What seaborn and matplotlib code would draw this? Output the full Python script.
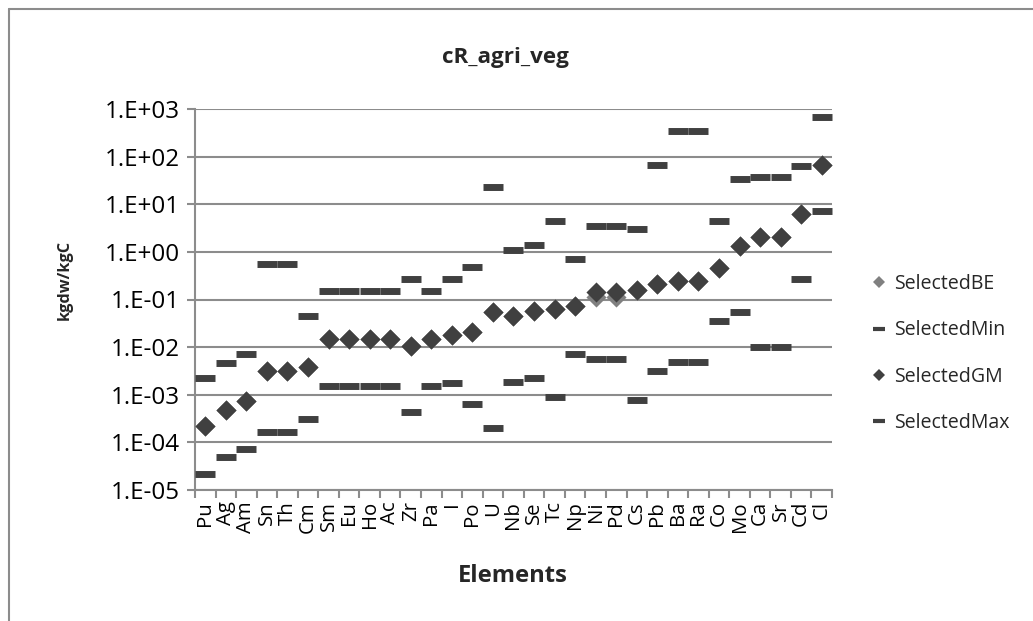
import matplotlib
matplotlib.use("Agg")
import matplotlib.pyplot as plt
import seaborn as sns
import pandas as pd
import numpy as np
from matplotlib.lines import Line2D
from matplotlib.ticker import FixedLocator, NullFormatter

elements = ["Pu", "Ag", "Am", "Sn", "Th", "Cm", "Sm", "Eu", "Ho", "Ac", "Zr", "Pa", "I", "Po",
            "U", "Nb", "Se", "Tc", "Np", "Ni", "Pd", "Cs", "Pb", "Ba", "Ra", "Co", "Mo", "Ca",
            "Sr", "Cd", "Cl"]

selected_gm = [2.2e-4, 4.9e-4, 7.5e-4, 3.2e-3, 3.2e-3, 3.85e-3, 0.015, 0.015, 0.015, 0.015,
               0.0104, 0.015, 0.0177, 0.0204, 0.054, 0.0443, 0.0563, 0.063, 0.0718, 0.141,
               0.141, 0.16, 0.214, 0.24, 0.24, 0.449, 1.36, 2.04, 2.04, 6.38, 67.9]

selected_be = [2.2e-4, 4.9e-4, 7.5e-4, 3.2e-3, 3.2e-3, 3.85e-3, 0.015, 0.015, 0.015, 0.015,
               0.0104, 0.015, 0.0177, 0.0204, 0.054, 0.0443, 0.0563, 0.063, 0.0718, 0.113,
               0.113, 0.16, 0.214, 0.24, 0.24, 0.449, 1.36, 2.04, 2.04, 6.38, 67.9]

selected_min = [2.2e-5, 5.0e-5, 7.3e-5, 1.67e-4, 1.67e-4, 3.1e-4, 1.56e-3, 1.56e-3, 1.56e-3,
                1.56e-3, 4.3e-4, 1.56e-3, 1.74e-3, 6.5e-4, 2.0e-4, 1.86e-3, 2.26e-3, 9.0e-4,
                7.2e-3, 5.66e-3, 5.66e-3, 7.8e-4, 3.16e-3, 4.89e-3, 4.89e-3, 0.0354, 0.0547,
                0.0101, 0.0101, 0.27, 7.17]

selected_max = [2.2e-3, 4.7e-3, 7.2e-3, 0.555, 0.555, 0.045, 0.15, 0.15, 0.15, 0.15, 0.27,
                0.15, 0.27, 0.487, 22.8, 1.1, 1.39, 4.42, 0.706, 3.47, 3.47, 3.0, 65.9, 340,
                340, 4.42, 33.6, 37.5, 37.5, 62.9, 670]

ytick_values = [1e-5, 1e-4, 1e-3, 1e-2, 1e-1, 1e0, 1e1, 1e2, 1e3]
ytick_labels = ["1.E-05", "1.E-04", "1.E-03", "1.E-02", "1.E-01", "1.E+00", "1.E+01",
                "1.E+02", "1.E+03"]

sns.set_theme(style="white")
plt.rcParams["font.family"] = ["Open Sans", "DejaVu Sans"]

W, H = 1033, 621
fig = plt.figure(figsize=(W / 100, H / 100), dpi=100)
renderer = fig.canvas.get_renderer()


def fit_size(text, target_px, weight="normal"):
    t = fig.text(0, 0, text, fontsize=10, fontweight=weight)
    w = t.get_window_extent(renderer=renderer).width
    t.remove()
    return 10 * target_px / w


tick_fs = fit_size("1.E+03", 75)
xt_fs = fit_size("Pu", 25)
leg_fs = fit_size("SelectedBE", 100)
title_fs = fit_size("cR_agri_veg", 127, "bold")
xl_fs = fit_size("Elements", 110, "bold")
yl_fs = fit_size("kgdw/kgC", 80, "bold")

ax = fig.add_axes([195 / W, 1 - 490 / H, (832 - 195) / W, (490 - 109) / H])
ax.set_yscale("log")

df = pd.DataFrame({"Element": elements, "BE": selected_be, "Min": selected_min,
                   "GM": selected_gm, "Max": selected_max})
df["x"] = np.arange(len(elements))

dark = "#404040"
sns.scatterplot(data=df, x="x", y="BE", marker="D", s=105, color="#808080",
                edgecolor="#808080", linewidth=0, ax=ax, zorder=3)
sns.scatterplot(data=df, x="x", y="Min", marker="_", s=210, color=dark,
                linewidth=5.0, ax=ax, zorder=4)
sns.scatterplot(data=df, x="x", y="GM", marker="D", s=105, color=dark,
                edgecolor=dark, linewidth=0, ax=ax, zorder=5)
sns.scatterplot(data=df, x="x", y="Max", marker="_", s=210, color=dark,
                linewidth=5.0, ax=ax, zorder=6)

ax.set_xlim(-0.5, len(elements) - 0.5)
ax.set_ylim(1e-5, 1e3)
ax.set_yticks(ytick_values)
ax.set_yticklabels(ytick_labels)
ax.yaxis.set_minor_locator(FixedLocator([]))
ax.set_xticks(df["x"])
ax.set_xticklabels(elements, rotation=90, va="top", ha="center")
ax.xaxis.set_minor_locator(FixedLocator(np.arange(-0.5, len(elements), 1.0)))
ax.xaxis.set_minor_formatter(NullFormatter())

grid_c = "#8c8c8c"
ax.grid(True, axis="y", color=grid_c, linewidth=1.5, zorder=0)
ax.set_axisbelow(True)
for side in ["top", "right"]:
    ax.spines[side].set_visible(False)
for side in ["left", "bottom"]:
    ax.spines[side].set_color(grid_c)
    ax.spines[side].set_linewidth(1.5)
ax.tick_params(axis="x", which="major", length=0, pad=8, labelsize=xt_fs, colors="black")
ax.tick_params(axis="x", which="minor", length=6, width=1.5, color=grid_c, direction="out",
               bottom=True)
ax.tick_params(axis="y", which="major", length=6, width=1.5, color=grid_c, direction="out",
               left=True, pad=5, labelsize=tick_fs, labelcolor="black")
ax.set_xlabel("")
ax.set_ylabel("")

fig.text(505 / W, 1 - 58 / H, "cR_agri_veg", ha="center", va="center",
         fontsize=title_fs, fontweight="bold")
fig.text(513 / W, 1 - 576 / H, "Elements", ha="center", va="center",
         fontsize=xl_fs, fontweight="bold")
fig.text(65 / W, 1 - 280 / H, "kgdw/kgC", ha="center", va="center", rotation=90,
         fontsize=yl_fs, fontweight="bold")

handles = [
    Line2D([], [], linestyle="none", marker="D", markersize=6, color="#808080", markeredgewidth=0),
    Line2D([], [], linestyle="none", marker="_", markersize=9, color=dark, markeredgewidth=3),
    Line2D([], [], linestyle="none", marker="D", markersize=6, color=dark, markeredgewidth=0),
    Line2D([], [], linestyle="none", marker="_", markersize=9, color=dark, markeredgewidth=3),
]
labels = ["SelectedBE", "SelectedMin", "SelectedGM", "SelectedMax"]
leg = fig.legend(handles, labels, loc="upper left", bbox_to_anchor=(872 / W, 1 - 274 / H),
                 frameon=False, fontsize=leg_fs, labelspacing=1.35, handlelength=0.7,
                 handletextpad=0.45, borderaxespad=0, borderpad=0)

# chart border (top and left edges visible in reference)
fig.add_artist(Line2D([9 / W, 9 / W], [0, 1 - 9 / H], color=grid_c, linewidth=1.5,
                      transform=fig.transFigure))
fig.add_artist(Line2D([9 / W, 1], [1 - 9 / H, 1 - 9 / H], color=grid_c, linewidth=1.5,
                      transform=fig.transFigure))

fig.savefig("out.png", dpi=100)
